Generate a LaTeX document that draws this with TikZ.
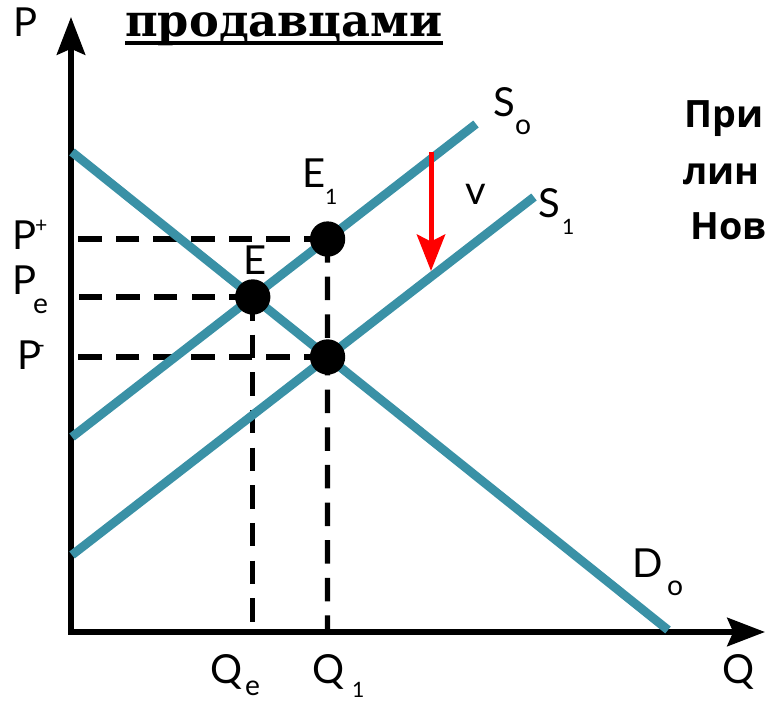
\documentclass[tikz,border=0pt]{standalone}
\usepackage{fontspec}
\setmainfont{Lato}
\newfontfamily\headfont{DejaVu Serif}
\newfontfamily\sidefont{Open Sans}
\usetikzlibrary{arrows.meta, positioning, calc}
\definecolor{curveblue}{RGB}{58,145,166}
\tikzset{
  ax/.style  ={line width=5pt, -{Stealth[length=32pt, width=24pt, inset=5pt]}},
  crv/.style ={line width=7.5pt, draw=curveblue},
  gd/.style  ={line width=4.5pt, dash pattern=on 20pt off 12pt},
  eq/.style  ={circle, fill=black, minimum size=30pt, inner sep=0pt},
  lb/.style  ={font=\fontsize{34}{38}\selectfont, inner sep=0pt, anchor=base west},
  sl/.style  ={font=\fontsize{24}{26}\selectfont, inner sep=0pt, anchor=base west},
  sd/.style  ={font=\fontsize{18}{20}\selectfont, inner sep=0pt, anchor=base west},
  sh/.style  ={line width=4.25pt, red, -{Stealth[length=31pt, width=24pt, inset=6pt]}},
  side/.style={font=\sidefont\bfseries\fontsize{32}{36}\selectfont, inner sep=0pt, anchor=base west},
}

\begin{document}
\begin{tikzpicture}[x=0.85pt, y=-0.85pt]
  \useasboundingbox (0,0) rectangle (767,702);
  % axes
  \coordinate (o) at (71,632);
  \coordinate (ytop) at (71,17);
  \coordinate (xend) at (765,632);
  \draw[ax] ([yshift=-2.5pt]o) -- (ytop);
  \draw[ax] (o) -- (xend);
  % curves
  \coordinate (d0a) at (72,152);
  \coordinate (d0b) at (668,630);
  \coordinate (s0a) at (72,437);
  \coordinate (s0b) at (476,124);
  \coordinate (s1a) at (72,555);
  \coordinate (s1b) at (534,197);
  \coordinate (e) at (intersection of d0a--d0b and s0a--s0b);
  \coordinate (e2) at (intersection of d0a--d0b and s1a--s1b);
  \coordinate (q1) at (e2 |- o);
  \coordinate (e1) at (intersection of s0a--s0b and e2--q1);
  % guides
  \draw[gd] (e1) -- (e1 -| o);
  \draw[gd] (e) -- (e -| o);
  \draw[gd] (e2) -- (e2 -| o);
  \draw[gd] (e) -- (e |- o);
  \draw[gd] (e1) -- (q1);
  \draw[crv] (d0a) -- (d0b);
  \draw[crv] (s0a) -- (s0b);
  \draw[crv] (s1a) -- (s1b);
  \node[eq] (ne) at (e) {};
  \node[eq] (ne1) at (e1) {};
  \node[eq] (ne2) at (e2) {};
  % shift of supply
  \coordinate (sh1) at (431,152);
  \coordinate (sh2) at (431,271);
  \draw[sh] (sh1) -- (sh2);
  % labels
  \node[lb] (lp) at (13,37) {P};
  \node[lb] (lpp) at (12,250) {P};
  \node[sd] at (35,233) {+};
  \node[lb] (lpe) at (12,295) {P};
  \node[sl] at (33,314) {e};
  \node[lb] (lpm) at (17,370) {P};
  \node[sd] at (37,353) {-};
  \node[lb] (le) at (243,275) {E};
  \node[lb] (le1) at (302,188) {E};
  \node[sd] at (325,205) {1};
  \node[lb] (lv) at (465,205) {v};
  \node[lb] (ls0) at (493,117) {S};
  \node[sl] at (515,135) {o};
  \node[lb] (ls1) at (538,218) {S};
  \node[sd] at (562,235) {1};
  \node[lb] (ld0) at (632,577) {D};
  \node[sl] at (667,595) {o};
  \node[lb] (lqe) at (210,683) {Q};
  \node[sl] at (245,695) {e};
  \node[lb] (lq1) at (312,683) {Q};
  \node[sd] at (352,697) {1};
  \node[lb] (lq) at (722,683) {Q};
  % heading
  \node[inner sep=0pt, anchor=base west, font=\headfont\bfseries\fontsize{38}{42}\selectfont] (hd) at (125,37) {продавцами};
  \draw[line width=3.4pt] ([yshift=-5pt]hd.base west) -- ([yshift=-5pt]hd.base east);
  \node[side] (t1) at (684,128) {При};
  \node[side] (t2) at (683,185) {лин};
  \node[side] (t3) at (690,240) {Нов};
\end{tikzpicture}
\end{document}
